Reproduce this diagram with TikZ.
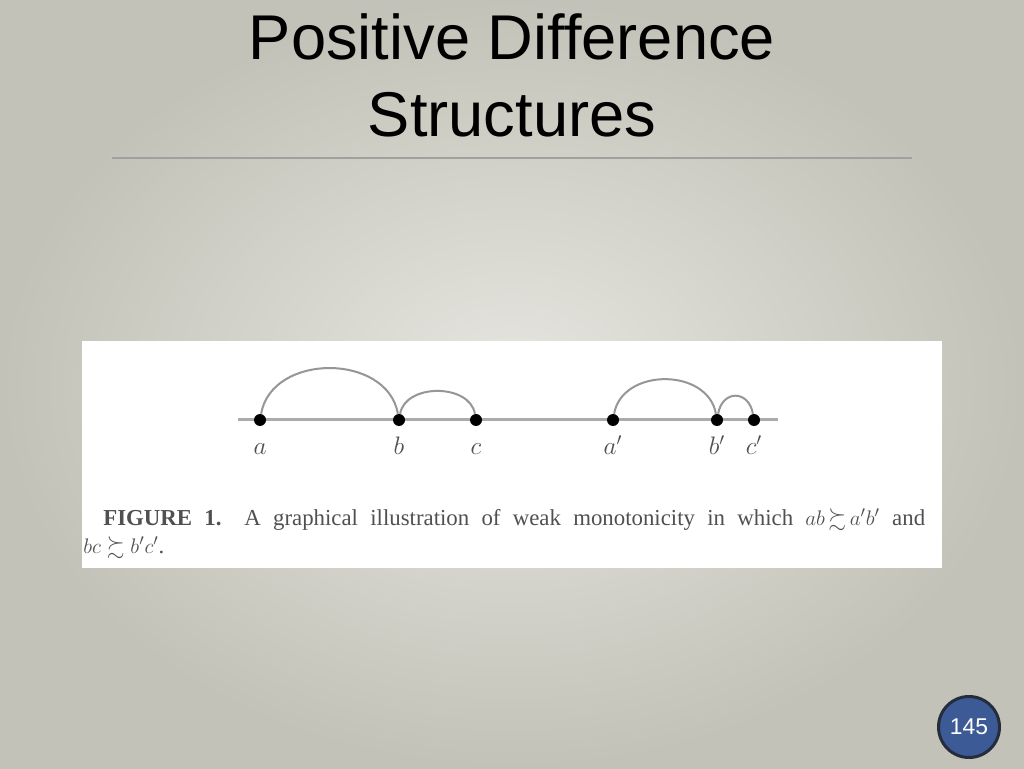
\documentclass[tikz,border=0pt]{standalone}
\usepackage{amsmath}
\usepackage{amssymb}
\usepackage{fontspec}
\setmainfont{Liberation Serif}
\newfontfamily\slidefont{Liberation Sans}
\usetikzlibrary{positioning}
\usetikzlibrary{calc}

\definecolor{slidebg}{RGB}{230,230,224}
\definecolor{slideedge}{RGB}{194,194,184}
\definecolor{rulegray}{RGB}{160,160,156}
\definecolor{scangray}{RGB}{150,150,150}
\definecolor{inkgray}{RGB}{80,80,80}
\definecolor{badgeblue}{RGB}{60,90,150}
\definecolor{badgerim}{RGB}{38,44,60}

\begin{document}
\begin{tikzpicture}[x=0.02cm,y=0.02cm,
  dot/.style={circle, fill=black, inner sep=0pt, minimum size=0.24cm},
  lbl/.style={font=\fontsize{14}{14}\selectfont, text=inkgray, text height=1.6ex, text depth=0.2ex, inner sep=1pt},
  arc/.style={draw=scangray, line width=0.04cm},
  titletext/.style={font=\slidefont\fontsize{36}{42}\selectfont, anchor=base, inner sep=0pt},
  captext/.style={font=\fontsize{13}{15}\selectfont, text=inkgray, anchor=base west, inner sep=0pt},
  badge/.style={circle, draw=badgerim, line width=0.06cm, fill=badgeblue, text=white, minimum size=1.22cm, font=\slidefont\fontsize{13}{13}\selectfont}]
  \useasboundingbox (0,0) rectangle (1024,768);
  \shade[inner color=slidebg, outer color=slideedge] (0,0) rectangle (1024,768);

  \node[titletext] (title1) at (512,708) {Positive Difference};
  \node[titletext] (title2) at ($(title1.base)+(0,-77)$) {Structures};
  \coordinate (ruleL) at (112,610);
  \coordinate (ruleR) at (912,610);
  \draw[rulegray, line width=0.03cm] (ruleL) -- (ruleR);

  \node[fill=white, inner sep=0pt, minimum width=17.2cm, minimum height=4.54cm] (scan) at (512,313.5) {};

  \coordinate (lineL) at (238,348);
  \coordinate (lineR) at (778,348);
  \draw[scangray!80, line width=0.06cm] (lineL) -- (lineR);

  \node[dot] (pa) at (260,348) {};
  \node[dot] (pb) at (399,348) {};
  \node[dot] (pc) at (476,348) {};
  \node[dot] (pa2) at (613,348) {};
  \node[dot] (pb2) at (717,348) {};
  \node[dot] (pc2) at (754,348) {};

  \path[arc] (pa) to[out=80, in=100, looseness=1.16] (pb);
  \path[arc] (pb) to[out=80, in=100, looseness=1.06] (pc);
  \path[arc] (pa2) to[out=80, in=100, looseness=1.18] (pb2);
  \path[arc] (pb2) to[out=80, in=100, looseness=1.8] (pc2);

  \node[lbl, below=0.26cm of pa] (la) {$a$};
  \node[lbl, below=0.26cm of pb] (lb) {$b$};
  \node[lbl, below=0.26cm of pc] (lc) {$c$};
  \node[lbl, below=0.26cm of pa2] (la2) {$a'$};
  \node[lbl, below=0.26cm of pb2] (lb2) {$b'$};
  \node[lbl, below=0.26cm of pc2] (lc2) {$c'$};

  \node[captext] (cap1) at (103,243) {\makebox[16.44cm][s]{\textbf{FIGURE 1.}\quad A graphical illustration of weak monotonicity in which ${ab}\,\mathord{\succsim}\,{a'b'}$ and}};
  \node[captext] (cap2) at (83,215) {$bc \succsim b'c'$.};

  \node[badge] (pagenum) at (969,41) {145};
\end{tikzpicture}
\end{document}
